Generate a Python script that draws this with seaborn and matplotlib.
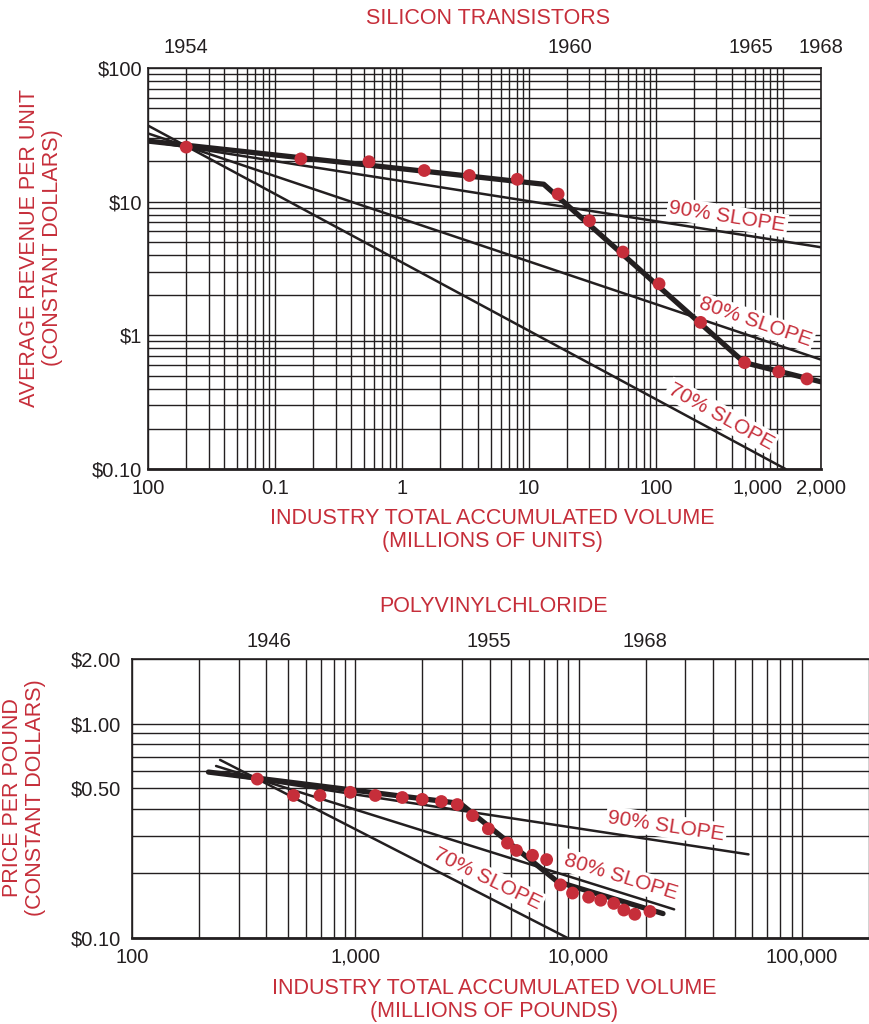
import numpy as np
import pandas as pd
import matplotlib
matplotlib.use("Agg")
import matplotlib.pyplot as plt
import matplotlib.transforms as mtransforms
from matplotlib.ticker import LogLocator, NullFormatter
import seaborn as sns

RED = "#c62e3a"
INK = "#231f20"

# ---- silicon transistors (top panel) ----
si_volume = [0.02, 0.16, 0.55, 1.5, 3.4, 8.1, 17, 30, 55, 106, 225, 500, 930, 1550]
si_price = [25.6, 20.9, 19.9, 17.1, 15.7, 14.7, 11.4, 7.2, 4.2, 2.43, 1.25, 0.625, 0.534, 0.472]
si_trend_x = [0.01, 13.1, 499, 2000]
si_trend_y = [28.4, 13.5, 0.625, 0.449]
si_slopes = {
    "90%": ([0.01, 2000], [28.4, 4.56]),
    "80%": ([0.01, 2000], [32.4, 0.658]),
    "70%": ([0.01, 1050], [37.1, 0.1]),
}
si_slope_labels = {"90%": (366, 7.7, -9), "80%": (611, 1.25, -19), "70%": (328, 0.248, -29)}
si_years = ["1954", "1960", "1965", "1968"]
si_year_x = [0.02, 21, 557, 2000]
si_xticks = [0.01, 0.1, 1, 10, 100, 1000, 2000]
si_xticklabels = ["100", "0.1", "1", "10", "100", "1,000", "2,000"]
si_yticks = [0.1, 1, 10, 100]
si_yticklabels = ["$0.10", "$1", "$10", "$100"]

# ---- polyvinylchloride (bottom panel) ----
pvc_volume = [364, 529, 695, 950, 1229, 1625, 1996, 2431, 2864, 3350, 3946, 4806,
              5272, 6222, 7197, 8300, 9400, 11100, 12570, 14380, 15960, 17870, 20890]
pvc_price = [0.551, 0.462, 0.462, 0.478, 0.462, 0.452, 0.443, 0.433, 0.419, 0.372, 0.323,
             0.277, 0.256, 0.243, 0.232, 0.177, 0.162, 0.155, 0.150, 0.145, 0.135, 0.129, 0.133]
pvc_trend_x = [220, 2958, 8050, 23900]
pvc_trend_y = [0.594, 0.424, 0.183, 0.130]
pvc_slopes = {
    "90%": ([220, 57700], [0.594, 0.2455]),
    "80%": ([238, 26800], [0.634, 0.136]),
    "70%": ([248, 8930], [0.677, 0.1]),
}
pvc_slope_labels = {"90%": (24700, 0.333, -8.5), "80%": (15450, 0.193, -17), "70%": (3910, 0.189, -26)}
pvc_years = ["1946", "1955", "1968"]
pvc_year_x = [411, 3946, 19800]
pvc_xticks = [100, 1000, 10000, 100000]
pvc_xticklabels = ["100", "1,000", "10,000", "100,000"]
pvc_yticks = [0.1, 0.5, 1, 2]
pvc_yticklabels = ["$0.10", "$0.50", "$1.00", "$2.00"]

sns.set_theme(style="white")
plt.rcParams["font.family"] = ["Liberation Sans", "DejaVu Sans"]
plt.rcParams["text.color"] = INK
plt.rcParams["xtick.color"] = INK
plt.rcParams["ytick.color"] = INK


def draw_panel(ax, vol, price, tx, ty, slopes, slope_labels, years, year_x,
               xticks, xticklabels, yticks, yticklabels, xlim, ylim, ypad, xpad):
    ax.set_xscale("log")
    ax.set_yscale("log")
    ax.set_xlim(*xlim)
    ax.set_ylim(*ylim)
    ax.xaxis.set_minor_locator(LogLocator(base=10, subs=np.arange(2, 10)))
    ax.yaxis.set_minor_locator(LogLocator(base=10, subs=np.arange(2, 10)))
    ax.xaxis.set_minor_formatter(NullFormatter())
    ax.yaxis.set_minor_formatter(NullFormatter())
    ax.set_xticks(xticks, xticklabels)
    ax.set_yticks(yticks, yticklabels)
    ax.tick_params(which="both", length=0, labelsize=14.5)
    ax.tick_params(axis="y", pad=ypad)
    ax.tick_params(axis="x", pad=xpad)
    ax.grid(which="both", color=INK, linewidth=1.0)
    ax.set_axisbelow(True)
    for sp in ax.spines.values():
        sp.set_color(INK)
        sp.set_linewidth(1.2)
    ax.spines["bottom"].set_linewidth(2.0)

    for name, (sx, sy) in slopes.items():
        df = pd.DataFrame({"x": sx, "y": sy})
        sns.lineplot(data=df, x="x", y="y", ax=ax, color=INK, linewidth=1.8,
                     sort=False, estimator=None, zorder=3)
        lx, ly, rot = slope_labels[name]
        ax.text(lx, ly, f"{name} SLOPE", color=RED, fontsize=15, rotation=rot,
                rotation_mode="anchor", ha="center", va="center", zorder=4,
                bbox=dict(facecolor="white", edgecolor="none", pad=1.5))

    trend = pd.DataFrame({"x": tx, "y": ty})
    sns.lineplot(data=trend, x="x", y="y", ax=ax, color=INK, linewidth=3.8,
                 sort=False, estimator=None, zorder=5)
    pts = pd.DataFrame({"x": vol, "y": price})
    sns.scatterplot(data=pts, x="x", y="y", ax=ax, color=RED, s=85,
                    edgecolor="none", zorder=6)
    ax.set_xlabel("")
    ax.set_ylabel("")

    trans = mtransforms.blended_transform_factory(ax.transData, ax.transAxes)
    for yr, xv in zip(years, year_x):
        ax.text(xv, 1.028, yr, transform=trans, ha="center", va="bottom", fontsize=14.5)


fig = plt.figure(figsize=(8.69, 10.24), dpi=100)

ax1 = fig.add_axes([148 / 869, 1 - 469 / 1024, 673 / 869, 401 / 1024])
draw_panel(ax1, si_volume, si_price, si_trend_x, si_trend_y, si_slopes, si_slope_labels,
           si_years, si_year_x, si_xticks, si_xticklabels, si_yticks, si_yticklabels,
           (0.01, 2000), (0.1, 100), 4, 7)
ax1.get_xticklabels()[5].set_horizontalalignment("right")

ax2 = fig.add_axes([132 / 869, 1 - 938 / 1024, 737 / 869, 279 / 1024])
draw_panel(ax2, pvc_volume, pvc_price, pvc_trend_x, pvc_trend_y, pvc_slopes, pvc_slope_labels,
           pvc_years, pvc_year_x, pvc_xticks, pvc_xticklabels, pvc_yticks, pvc_yticklabels,
           (100, 200000), (0.1, 2), 8, 7)
ax2.spines["right"].set_visible(False)

# titles and axis labels
fig.text(488 / 869, 1 - 18 / 1024, "SILICON TRANSISTORS", color=RED, fontsize=15.5, ha="center", va="center")
fig.text(492 / 869, 1 - 530 / 1024, "INDUSTRY TOTAL ACCUMULATED VOLUME\n(MILLIONS OF UNITS)",
         color=RED, fontsize=15.5, ha="center", va="center", linespacing=1.1)
fig.text(41 / 869, 1 - 248 / 1024, "AVERAGE REVENUE PER UNIT\n(CONSTANT DOLLARS)",
         color=RED, fontsize=15.5, ha="center", va="center", rotation=90, linespacing=1.1)

fig.text(493 / 869, 1 - 607 / 1024, "POLYVINYLCHLORIDE", color=RED, fontsize=15.5, ha="center", va="center")
fig.text(494 / 869, 1 - 1000 / 1024, "INDUSTRY TOTAL ACCUMULATED VOLUME\n(MILLIONS OF POUNDS)",
         color=RED, fontsize=15.5, ha="center", va="center", linespacing=1.1)
fig.text(24 / 869, 1 - 798 / 1024, "PRICE PER POUND\n(CONSTANT DOLLARS)",
         color=RED, fontsize=15.5, ha="center", va="center", rotation=90, linespacing=1.1)

fig.savefig("out.png", dpi=100)
